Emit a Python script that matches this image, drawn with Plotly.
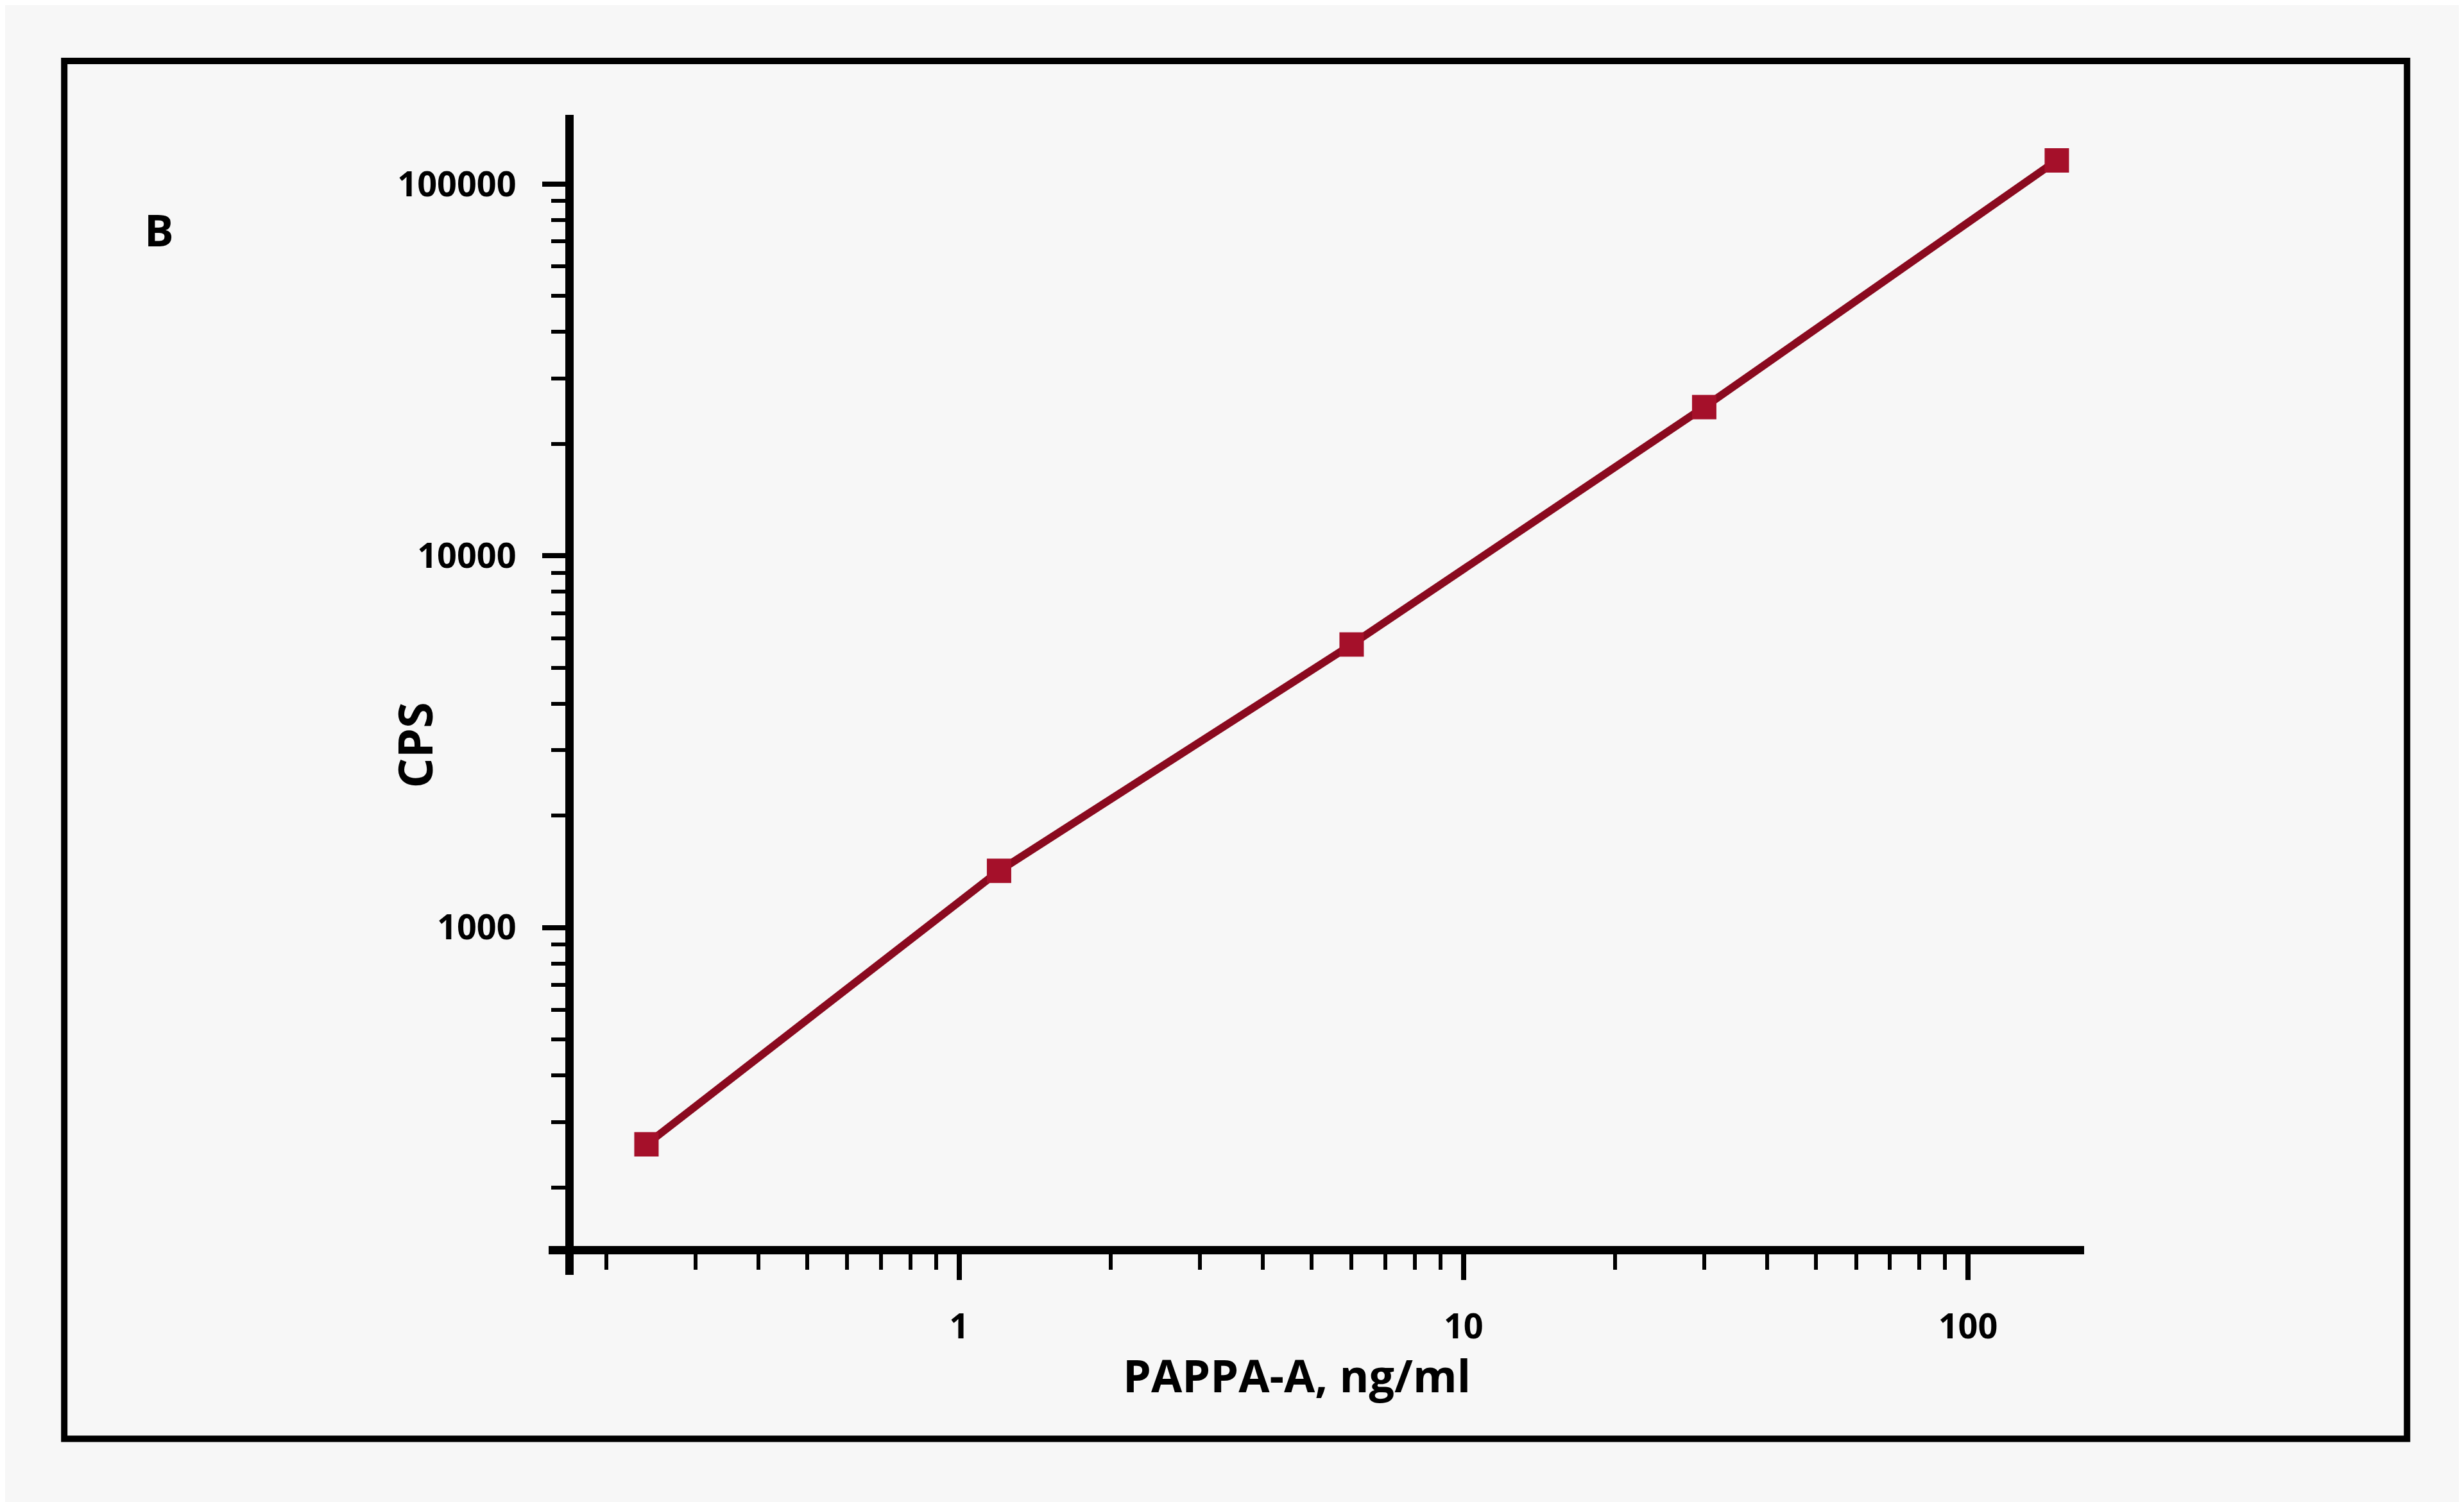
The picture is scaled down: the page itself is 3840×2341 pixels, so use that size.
import plotly.graph_objects as go

# Data
conc_ng_ml = [0.24, 1.2, 6, 30, 150]
cps = [261, 1420, 5770, 25100, 115700]

x_title = "PAPPA-A, ng/ml"
y_title = "CPS"
panel_label = "B"

W, H = 3840, 2341
FONT = "Open Sans"
BG = "#f7f7f7"

fig = go.Figure()
fig.add_trace(go.Scatter(
    x=conc_ng_ml, y=cps, mode="lines+markers",
    line=dict(color="#8a0a1f", width=12),
    marker=dict(symbol="square", size=38, color="#a5102a"),
    showlegend=False,
))

tickfont = dict(family=FONT, size=54, color="black", weight="bold")

fig.update_layout(
    width=W, height=H,
    margin=dict(l=0, r=0, t=0, b=0),
    paper_bgcolor=BG, plot_bgcolor=BG,
    xaxis=dict(
        type="log", range=[-0.8131, 2.2305],
        domain=[0.2207, 0.8438],
        anchor="free", position=0.1713,
        showgrid=False, zeroline=False,
        showline=True, linecolor="black", linewidth=13,
        ticks="outside", ticklen=40, tickwidth=8, tickcolor="black",
        dtick=1, tickformat="d",
        tickfont=tickfont, ticklabelstandoff=26,
        minor=dict(ticks="outside", ticklen=24, tickwidth=6, tickcolor="black", dtick="D1", showgrid=False),
    ),
    yaxis=dict(
        type="log", range=[2.0655, 5.186],
        domain=[0.1546, 0.927],
        anchor="free", position=0.2290,
        showgrid=False, zeroline=False,
        showline=True, linecolor="black", linewidth=13,
        ticks="outside", ticklen=36, tickwidth=8, tickcolor="black",
        dtick=1, tickformat="d",
        tickfont=tickfont, ticklabelstandoff=30,
        minor=dict(ticks="outside", ticklen=22, tickwidth=6, tickcolor="black", dtick="D1", showgrid=False),
    ),
    shapes=[dict(
        type="rect", xref="paper", yref="paper",
        x0=0.0240, x1=0.9748, y0=0.0455, y1=0.9628,
        line=dict(color="black", width=10), fillcolor="rgba(0,0,0,0)", layer="below",
    )],
    annotations=[
        dict(text=panel_label, xref="paper", yref="paper", x=0.0625, y=0.8505,
             showarrow=False, xanchor="center", yanchor="middle",
             font=dict(family=FONT, size=68, color="black", weight="bold")),
        dict(text=x_title, xref="paper", yref="paper", x=0.5242, y=0.088,
             showarrow=False, xanchor="center", yanchor="middle",
             font=dict(family=FONT, size=70, color="black", weight="bold")),
        dict(text=y_title, xref="paper", yref="paper", x=0.1660, y=0.5074,
             showarrow=False, xanchor="center", yanchor="middle", textangle=-90,
             font=dict(family=FONT, size=74, color="black", weight="bold")),
    ],
)

fig.write_html("out.html")
